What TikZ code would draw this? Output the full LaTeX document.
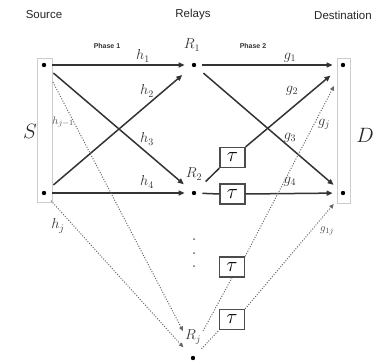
\documentclass[tikz,border=0pt]{standalone}
\usepackage{fontspec}
\newfontfamily\hdfont{Liberation Sans}
\usetikzlibrary{arrows.meta}
\begin{document}
\begin{tikzpicture}[x=1pt,y=-1pt,
  dotnode/.style={circle,fill=black,inner sep=0pt,minimum size=4.4pt},
  arr/.style={draw=black!80,line width=1.5pt,-{Triangle[length=6pt,width=5pt]}},
  plain/.style={draw=black!80,line width=1.5pt},
  dotarr/.style={draw=black!60,line width=1pt,dash pattern=on 1pt off 1.6pt,-{Triangle[length=4.5pt,width=4pt]}},
  dotln/.style={draw=black!60,line width=1pt,dash pattern=on 1pt off 1.6pt},
  taubox/.style={draw=black!70,line width=1.4pt,minimum width=25pt,minimum height=20pt,inner sep=0pt,font=\fontsize{20.74}{20.74}\selectfont},
  lbl/.style={font=\fontsize{14.4}{14.4}\selectfont,text=black!80,inner sep=0pt},
  slbl/.style={font=\fontsize{10.95}{10.95}\selectfont,text=black!70,inner sep=0pt},
  big/.style={font=\fontsize{20.74}{20.74}\selectfont,text=black!85,inner sep=0pt},
  hd/.style={font=\hdfont\fontsize{11.5}{12}\selectfont,text=black!85,inner sep=0pt},
  ph/.style={font=\hdfont\bfseries\fontsize{7}{7}\selectfont,text=black!80,inner sep=0pt},
  framebox/.style={draw=black!20,line width=0.8pt}]
\useasboundingbox (0,0) rectangle (373,364);

% frames
\draw[framebox] (37,58) rectangle (52,202);
\draw[framebox] (337,58) rectangle (350,203);

% headings
\node[hd] (hsrc) at (44,15) {Source};
\node[hd] (hrel) at (193,15) {Relays};
\node[hd] (hdst) at (343,15) {Destination};
\node[ph] (ph1) at (107,46) {Phase 1};
\node[ph] (ph2) at (253,46) {Phase 2};
\node[big] (S) at (30,131) {$S$};
\node[big] (D) at (365,135) {$D$};

% dots
\node[dotnode] (s1) at (44,65) {};
\node[dotnode] (s2) at (44,193) {};
\node[dotnode] (r1) at (194,65) {};
\node[dotnode] (r2) at (194,193) {};
\node[dotnode] (rj) at (193,358) {};
\node[dotnode] (d1) at (343,65) {};
\node[dotnode] (d2) at (343,193) {};
\foreach \yy/\nm in {239/v1,253/v2,266/v3}
  \node[circle,fill=black!60,inner sep=0pt,minimum size=2pt] (\nm) at (194,\yy) {};

% tau boxes
\node[taubox] (t1) at (232.5,157.5) {$\tau$};
\node[taubox] (t2) at (232.5,194) {$\tau$};
\node[taubox] (t3) at (232,267) {$\tau$};
\node[taubox] (t4) at (232,319.5) {$\tau$};

% coordinates for free ends
\coordinate (rjup) at (183,331);
\coordinate (rjo) at (203,331);
\coordinate (dj) at (334,86);

% phase 1
\draw[arr,shorten <=6pt,shorten >=7pt] (s1) -- (r1);
\draw[arr,shorten <=10pt,shorten >=13pt] (s2) -- (r1);
\draw[arr,shorten <=10pt,shorten >=11pt] (s1) -- (r2);
\draw[arr,shorten <=6pt,shorten >=7pt] (s2) -- (r2);
\draw[dotarr,shorten <=17pt] (s1) -- (rjup);
\draw[dotarr,shorten <=8pt,shorten >=12pt] (s2) -- (rj);

% phase 2
\draw[arr,shorten <=6pt,shorten >=8pt] (r1) -- (d1);
\draw[arr,shorten <=10pt,shorten >=10pt] (r1) -- (d2);
\draw[plain,shorten <=14pt] (r2) -- (t1.south west);
\draw[arr,shorten >=14pt] (t1.north east) -- (d1);
\draw[plain,shorten <=6pt] (r2) -- (t2.west);
\draw[arr,shorten >=8pt] (t2.east) -- (d2);
\draw[dotln] (rjo) -- (t3.south);
\draw[dotarr] (t3.north east) -- (dj);
\draw[dotln,shorten <=10pt] (rj) -- (t4.south west);
\draw[dotarr,shorten >=12pt] (t4.north east) -- (d2);

% labels
\node[lbl] (lr1) at (192,45) {$R_1$};
\node[lbl] (lr2) at (194,174) {$R_2$};
\node[lbl] (lrj) at (193,337) {$R_j$};
\node[lbl] (lh1) at (143,56) {$h_1$};
\node[lbl] (lh2) at (147,91) {$h_2$};
\node[lbl] (lh3) at (147,139) {$h_3$};
\node[lbl] (lh4) at (147,182) {$h_4$};
\node[slbl] (lhj1) at (63,122) {$h_{j-1}$};
\node[lbl] (lhj) at (58,226) {$h_j$};
\node[lbl] (lg1) at (290,58) {$g_1$};
\node[lbl] (lg2) at (292,91) {$g_2$};
\node[lbl] (lg3) at (290,138) {$g_3$};
\node[lbl] (lg4) at (290,182) {$g_4$};
\node[lbl] (lgj) at (324,124) {$g_j$};
\node[slbl] (lg1j) at (327,231) {$g_{1j}$};
\end{tikzpicture}
\end{document}
